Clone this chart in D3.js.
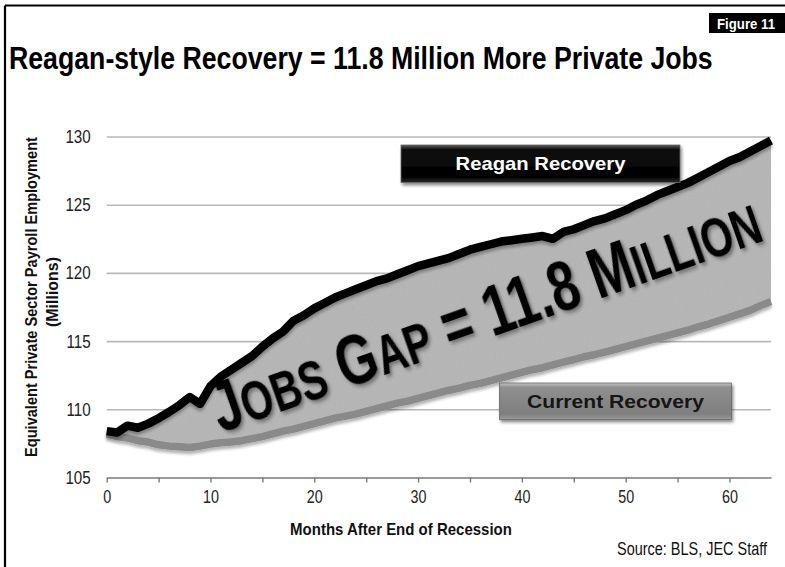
<!DOCTYPE html>
<html>
<head>
<meta charset="utf-8">
<script src="https://cdn.jsdelivr.net/npm/d3@7"></script>
<style>
  html, body { margin: 0; padding: 0; background: #fff; }
  svg { display: block; }
  text { font-family: "Liberation Sans Narrow", "Arial Narrow", "Liberation Sans", Arial, sans-serif; }
  .wide { font-family: "Liberation Sans", Arial, sans-serif; }
</style>
</head>
<body>
<svg id="chart" width="785" height="567"></svg>
<script>
// Months after the end of each recession (0..64)
const reaganJobs = [
  108.4, 108.3, 108.8, 108.65, 108.95, 109.35, 109.8, 110.3, 110.9, 110.4,
  111.7, 112.4, 112.9, 113.4, 113.9, 114.6, 115.2, 115.7, 116.5, 116.9,
  117.4, 117.8, 118.2, 118.5, 118.8, 119.1, 119.4, 119.6, 119.9, 120.2,
  120.5, 120.7, 120.9, 121.1, 121.4, 121.7, 121.9, 122.1, 122.3, 122.4,
  122.5, 122.6, 122.7, 122.5, 123.0, 123.2, 123.5, 123.8, 124.0, 124.3,
  124.6, 125.0, 125.3, 125.7, 126.0, 126.3, 126.6, 127.0, 127.4, 127.8,
  128.2, 128.5, 128.9, 129.3, 129.7
];
const currentJobs = [
  108.2, 108.0, 107.9, 107.7, 107.6, 107.4, 107.3, 107.25, 107.2, 107.3,
  107.45, 107.55, 107.6, 107.7, 107.85, 108.0, 108.2, 108.4, 108.55, 108.75,
  108.95, 109.15, 109.35, 109.5, 109.65, 109.85, 110.05, 110.25, 110.45, 110.6,
  110.8, 111.0, 111.2, 111.4, 111.55, 111.75, 111.9, 112.1, 112.3, 112.5,
  112.7, 112.9, 113.05, 113.25, 113.45, 113.65, 113.85, 114.0, 114.2, 114.4,
  114.6, 114.8, 115.0, 115.2, 115.4, 115.6, 115.8, 116.05, 116.25, 116.5,
  116.75, 117.0, 117.25, 117.6, 117.9
];
const yTicks = [105, 110, 115, 120, 125, 130];
const xTicks = [0, 5, 10, 15, 20, 25, 30, 35, 40, 45, 50, 55, 60];
const xLabelTicks = [0, 10, 20, 30, 40, 50, 60];

const titleText = "Reagan-style Recovery = 11.8 Million More Private Jobs";
const figureLabel = "Figure 11";
const yTitle1 = "Equivalent Private Sector Payroll Employment";
const yTitle2 = "(Millions)";
const xTitle = "Months After End of Recession";
const sourceText = "Source:  BLS, JEC Staff";
const reaganLabel = "Reagan Recovery";
const currentLabel = "Current  Recovery";

const svg = d3.select("#chart");
const defs = svg.append("defs");

// Condense a text horizontally to a given width, keeping its anchor point fixed
function condense(sel, width, ax, ay, extra) {
  const node = sel.node();
  const w = node.getComputedTextLength();
  const s = width / w;
  sel.attr("transform", `translate(${ax},${ay}) ${extra || ""} scale(${s},1)`);
  return s;
}

// Shadows and grain
const sh = defs.append("filter").attr("id", "shadow").attr("x", "-10%").attr("y", "-20%").attr("width", "130%").attr("height", "160%");
sh.append("feDropShadow").attr("dx", 1.5).attr("dy", 2.5).attr("stdDeviation", 1.8).attr("flood-color", "#000").attr("flood-opacity", 0.45);

const sh2 = defs.append("filter").attr("id", "lineShadow").attr("x", "-10%").attr("y", "-10%").attr("width", "130%").attr("height", "140%");
sh2.append("feDropShadow").attr("dx", 0).attr("dy", 3).attr("stdDeviation", 1.6).attr("flood-color", "#000").attr("flood-opacity", 0.3);

const tx = defs.append("filter").attr("id", "textShadow").attr("x", "-10%").attr("y", "-30%").attr("width", "130%").attr("height", "170%");
tx.append("feDropShadow").attr("dx", 2).attr("dy", 3).attr("stdDeviation", 2).attr("flood-color", "#000").attr("flood-opacity", 0.4);

const grain = defs.append("filter").attr("id", "grain").attr("x", 0).attr("y", 0).attr("width", "100%").attr("height", "100%");
grain.append("feTurbulence").attr("type", "fractalNoise").attr("baseFrequency", 0.9).attr("numOctaves", 2).attr("seed", 3).attr("result", "noise");
grain.append("feColorMatrix").attr("in", "noise").attr("type", "saturate").attr("values", 0).attr("result", "gray");
grain.append("feComposite").attr("in", "gray").attr("in2", "SourceGraphic").attr("operator", "in");

const gR = defs.append("linearGradient").attr("id", "gradReagan").attr("x1", 0).attr("y1", 0).attr("x2", 0).attr("y2", 1);
gR.append("stop").attr("offset", "0").attr("stop-color", "#5a5a5a");
gR.append("stop").attr("offset", "0.12").attr("stop-color", "#111");
gR.append("stop").attr("offset", "0.85").attr("stop-color", "#000");
gR.append("stop").attr("offset", "1").attr("stop-color", "#2a2a2a");

const gC = defs.append("linearGradient").attr("id", "gradCurrent").attr("x1", 0).attr("y1", 0).attr("x2", 0).attr("y2", 1);
gC.append("stop").attr("offset", "0").attr("stop-color", "#c4c4c4");
gC.append("stop").attr("offset", "0.12").attr("stop-color", "#8f8f8f");
gC.append("stop").attr("offset", "0.85").attr("stop-color", "#7f7f7f");
gC.append("stop").attr("offset", "1").attr("stop-color", "#9a9a9a");

// Frame
svg.append("line").attr("x1", 5).attr("x2", 785).attr("y1", 5.5).attr("y2", 5.5).attr("stroke", "#000").attr("stroke-width", 2.2);
svg.append("line").attr("x1", 5).attr("x2", 5).attr("y1", 5.5).attr("y2", 567).attr("stroke", "#000").attr("stroke-width", 2.2);

// Figure tag
svg.append("rect").attr("x", 709).attr("y", 13).attr("width", 76).attr("height", 20).attr("fill", "#000");
const fig = svg.append("text").attr("text-anchor", "middle")
  .attr("fill", "#fff").attr("font-weight", "bold").attr("font-size", 14).text(figureLabel);
condense(fig, 58, 746, 28.5);

// Title
const title = svg.append("text").attr("font-weight", "bold").attr("font-size", 32).attr("fill", "#000").text(titleText);
condense(title, 704, 9, 68.5);

// Scales
const x = d3.scaleLinear().domain([0, 64]).range([106.7, 771]);
const y = d3.scaleLinear().domain([105, 130]).range([477.5, 136.5]);

// Gridlines and y labels
const yAxis = d3.axisLeft(y).tickValues(yTicks).tickSizeInner(-(x.range()[1] - x.range()[0])).tickSizeOuter(0).tickPadding(16);
const gy = svg.append("g").attr("transform", `translate(${x.range()[0]},0)`).call(yAxis);
gy.select(".domain").remove();
gy.selectAll(".tick line").attr("stroke", "#b8b8b8").attr("stroke-width", 1.6)
  .attr("opacity", d => d === 105 ? 0 : 1);
gy.selectAll(".tick text").attr("font-size", 18.5).attr("fill", "#222")
  .attr("font-family", "'Liberation Sans', Arial, sans-serif")
  .attr("transform", "translate(-16,0) scale(0.82,1) translate(16,0)");

// X axis
const xAxis = d3.axisBottom(x).tickValues(xTicks).tickSizeInner(5).tickSizeOuter(0).tickPadding(8)
  .tickFormat(d => xLabelTicks.includes(d) ? d : "");
const gx = svg.append("g").attr("transform", `translate(0,${y(105)})`).call(xAxis);
gx.select(".domain").attr("stroke", "#7a7a7a").attr("stroke-width", 1.6);
gx.selectAll(".tick line").attr("stroke", "#7a7a7a").attr("stroke-width", 1.4);
gx.selectAll(".tick text").attr("font-size", 17.5).attr("fill", "#222")
  .attr("font-family", "'Liberation Sans', Arial, sans-serif")
  .attr("transform", "scale(0.82,1)");

// Axis titles
const yt1 = svg.append("text").attr("text-anchor", "middle").attr("font-weight", "bold").attr("font-size", 17).attr("fill", "#111").text(yTitle1);
condense(yt1, 320, 37, 297, "rotate(-90)");
const yt2 = svg.append("text").attr("text-anchor", "middle").attr("font-weight", "bold").attr("font-size", 17).attr("fill", "#111").text(yTitle2);
condense(yt2, 70, 58, 292, "rotate(-90)");
const xt = svg.append("text").attr("text-anchor", "middle").attr("font-weight", "bold").attr("font-size", 17).attr("fill", "#111").text(xTitle);
condense(xt, 222, 401, 534.5);
const src = svg.append("text").attr("text-anchor", "end").attr("font-size", 17.5).attr("fill", "#111").text(sourceText);
condense(src, 150, 767, 555);

// Gap between the two recoveries
const rows = reaganJobs.map((r, i) => ({ m: i, reagan: r, current: currentJobs[i] }));
const area = d3.area().x(d => x(d.m)).y0(d => y(d.current)).y1(d => y(d.reagan));
const gapPath = area(rows);
svg.append("path").attr("d", gapPath).attr("fill", "#b5b5b5");
svg.append("path").attr("d", gapPath).attr("fill", "#b5b5b5").attr("filter", "url(#grain)").attr("opacity", 0.12);

const lineCurrent = d3.line().x(d => x(d.m)).y(d => y(d.current));
const lineReagan = d3.line().x(d => x(d.m)).y(d => y(d.reagan));

svg.append("path").attr("d", lineCurrent(rows)).attr("fill", "none")
  .attr("stroke", "#8a8a8a").attr("stroke-width", 7.5).attr("stroke-linejoin", "round")
  .attr("filter", "url(#lineShadow)");
svg.append("path").attr("d", lineReagan(rows)).attr("fill", "none")
  .attr("stroke", "#000").attr("stroke-width", 8.5).attr("stroke-linejoin", "round")
  .attr("filter", "url(#lineShadow)");

// Gap annotation, in small capitals
const last = rows[rows.length - 1];
const gapValue = (last.reagan - last.current).toFixed(1);
const big = 71, small = 56;
const gapText = svg.append("text").attr("font-weight", "bold").attr("fill", "#000").attr("filter", "url(#textShadow)")
  .attr("font-family", "'Liberation Sans', Arial, sans-serif");
[["J", big], ["OBS", small], [" G", big], ["AP", small], [" = " + gapValue + " M", big], ["ILLION", small]]
  .forEach(([t, s]) => gapText.append("tspan").attr("font-size", s).text(t));
condense(gapText, 578, 221, 433, "rotate(-19.5)");

// Series labels
function tag(x0, y0, w, h, fill, label, color, size, len) {
  const g = svg.append("g");
  g.append("rect").attr("x", x0).attr("y", y0).attr("width", w).attr("height", h)
    .attr("fill", fill).attr("stroke", "#666").attr("stroke-width", 0.8).attr("filter", "url(#shadow)");
  const t = g.append("text").attr("class", "wide").attr("text-anchor", "middle")
    .attr("font-weight", "bold").attr("font-size", size).attr("fill", color).text(label);
  condense(t, len, x0 + w / 2, y0 + h / 2 + 6.5);
}
tag(401, 145, 279, 37.5, "url(#gradReagan)", reaganLabel, "#fff", 18.5, 170);
tag(499.5, 383, 232, 36.5, "url(#gradCurrent)", currentLabel, "#151515", 18.5, 177);
</script>
</body>
</html>
